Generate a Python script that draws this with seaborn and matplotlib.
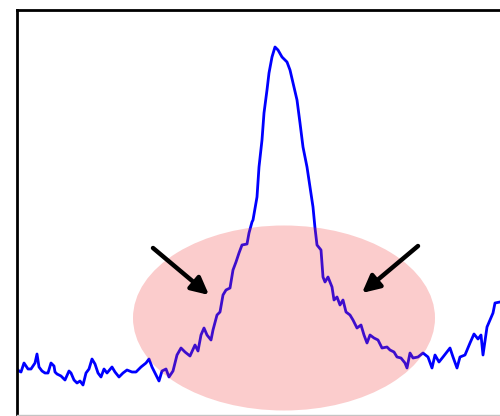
import matplotlib
matplotlib.use("Agg")
import matplotlib.pyplot as plt
import seaborn as sns
import pandas as pd
from matplotlib.patches import Ellipse

channel = [18, 19, 21, 24, 26, 28, 31, 35, 37, 39, 42, 45, 48, 51, 54, 55, 57, 61, 65, 69,
           71, 74, 77, 80, 83, 86, 89, 92, 95, 98, 101, 104, 107, 112, 115, 119, 123, 127, 132, 136,
           141, 146, 149, 152, 155, 159, 162, 166, 169, 173, 177, 181, 185, 190, 195, 198, 201, 204, 207, 211,
           213, 217, 220, 223, 226, 230, 233, 236, 239, 242, 247, 249, 252, 253, 257, 259, 262, 264, 267, 269,
           272, 275, 278, 282, 287, 290, 293, 297, 300, 303, 307, 310, 313, 315, 317, 321, 323, 325, 328, 332,
           334, 337, 340, 343, 346, 350, 353, 357, 361, 364, 367, 370, 374, 378, 382, 387, 390, 394, 397, 401,
           405, 407, 410, 413, 418, 423, 428, 432, 435, 439, 443, 450, 453, 457, 460, 465, 470, 474, 478, 481,
           483, 487, 490, 493, 495, 500]
counts = [45, 44, 43, 52, 49, 46, 46, 52, 61, 48, 44, 42, 42, 52, 49, 43, 41, 39, 35, 44,
          42, 35, 32, 34, 30, 42, 46, 56, 51, 42, 38, 46, 42, 48, 43, 38, 42, 45, 43, 43,
          48, 52, 56, 48, 42, 34, 44, 46, 38, 44, 60, 67, 63, 59, 70, 64, 80, 87, 80, 75,
          85, 100, 103, 120, 125, 127, 145, 153, 162, 170, 171, 182, 193, 195, 218, 248, 275, 302, 325, 342,
          358, 368, 365, 358, 353, 345, 332, 315, 292, 268, 248, 228, 208, 187, 170, 165, 138, 133, 138, 128,
          115, 118, 110, 115, 103, 100, 95, 87, 90, 80, 72, 80, 77, 75, 67, 68, 65, 63, 58, 57,
          52, 47, 62, 57, 58, 62, 58, 47, 60, 53, 58, 67, 58, 47, 58, 60, 72, 81, 76, 80,
          60, 88, 95, 102, 112, 113]

df = pd.DataFrame({"channel": channel, "counts": counts})

fig = plt.figure(figsize=(5.0, 4.16), dpi=100)
ax = fig.add_axes([17 / 500, 1 / 416, (520 - 17) / 500, 405 / 416])
sns.lineplot(data=df, x="channel", y="counts", color="#0000ff", linewidth=2.0, ax=ax)
ax.set_xlim(17, 520)
ax.set_ylim(0, 405)

ell = Ellipse((284, 97), 302, 185, facecolor="#f03a3a", alpha=0.26, edgecolor="none", zorder=3)
ax.add_patch(ell)

arrow_kw = dict(arrowstyle="-|>", color="black", lw=3.2, mutation_scale=26, shrinkA=0, shrinkB=0)
ax.annotate("", xy=(209, 120), xytext=(153, 167), arrowprops=arrow_kw, zorder=5)
ax.annotate("", xy=(362, 122), xytext=(418, 169), arrowprops=arrow_kw, zorder=5)

ax.set_xticks([])
ax.set_yticks([])
ax.set_xlabel("")
ax.set_ylabel("")
for s in ["left", "top"]:
    ax.spines[s].set_color("black")
    ax.spines[s].set_linewidth(2.0)
ax.spines["bottom"].set_color("#c4c4c4")
ax.spines["bottom"].set_linewidth(1.0)
ax.spines["right"].set_visible(False)

fig.savefig("out.png", dpi=100)
